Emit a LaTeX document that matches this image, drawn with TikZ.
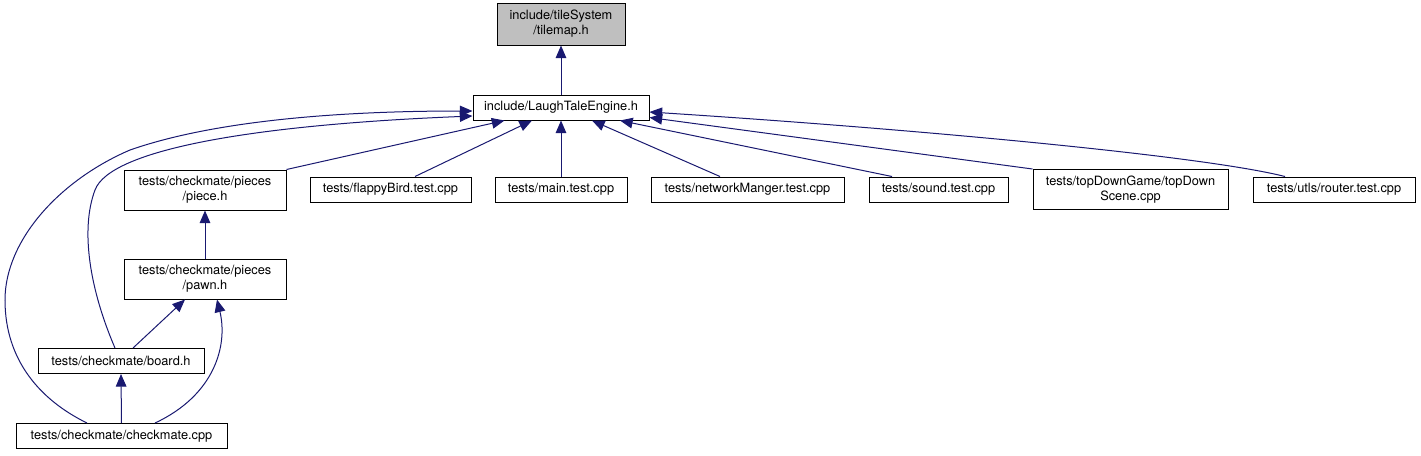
\documentclass[tikz,border=0pt]{standalone}
\usepackage{fontspec}
\setmainfont{TeX Gyre Heros}
\usetikzlibrary{arrows.meta,calc}
\definecolor{edgeblue}{HTML}{191970}
\definecolor{rootgray}{HTML}{BFBFBF}

\tikzset{every picture/.style={line width=0.75pt}}
\tikzset{
  file/.style={draw=black, fill=white, inner sep=0pt, align=center,
    font=\fontsize{9.6pt}{11.25pt}\selectfont, minimum height=25*0.75pt},
  twoline/.style={minimum height=40*0.75pt},
  wd/.style={minimum width=#1*0.75pt},
  dep/.style={draw=edgeblue, -{Triangle[length=9.5pt,width=8pt]}}
}

\begin{document}
\begin{tikzpicture}[x=0.75pt,y=0.75pt,yscale=-1,xscale=1]
\useasboundingbox (0,0) rectangle (1421,455);

% Text Node
\node[file, wd=128, minimum height=42*0.75pt, fill=rootgray] (tilemap) at (561,24) {include/tileSystem\\/tilemap.h};
% Text Node
\node[file, wd=176] (lte) at (561,107.5) {include/LaughTaleEngine.h};
% Text Node
\node[file, wd=162, twoline] (piece) at (205,190) {tests/checkmate/pieces\\/piece.h};
% Text Node
\node[file, wd=161] (flappy) at (390.5,189.5) {tests/flappyBird.test.cpp};
% Text Node
\node[file, wd=132] (maintest) at (561,189.5) {tests/main.test.cpp};
% Text Node
\node[file, wd=193] (network) at (747.5,189.5) {tests/networkManger.test.cpp};
% Text Node
\node[file, wd=139] (sound) at (938.5,189.5) {tests/sound.test.cpp};
% Text Node
\node[file, wd=195, twoline] (topdown) at (1130.5,189.5) {tests/topDownGame/topDown\\Scene.cpp};
% Text Node
\node[file, wd=162] (router) at (1334,189.5) {tests/utls/router.test.cpp};
% Text Node
\node[file, wd=162, twoline] (pawn) at (205,279) {tests/checkmate/pieces\\/pawn.h};
% Text Node
\node[file, wd=166] (board) at (121,361) {tests/checkmate/board.h};
% Text Node
\node[file, wd=211] (checkmate) at (121.5,436) {tests/checkmate/checkmate.cpp};

%Straight Lines
\draw[dep] (lte.north) -- (tilemap.south);
\draw[dep] (piece.north east) -- ($(lte.south west)+(32,0)$);
\draw[dep] ($(flappy.north)+(24.5,0)$) -- ($(lte.south)+(-29,0)$);
\draw[dep] (maintest.north) -- (lte.south);
\draw[dep] ($(network.north)+(-27.5,0)$) -- ($(lte.south)+(31,0)$);
\draw[dep] ($(sound.north)+(-46.5,0)$) -- ($(lte.south)+(59,0)$);
\draw[dep] (topdown.north west) -- ($(lte.south east)+(0,-3)$);
\draw[dep] (pawn.north) -- (piece.south);
\draw[dep] ($(board.north)+(12,0)$) -- ($(pawn.south)+(-20,0)$);
\draw[dep] (checkmate.north) -- (board.south);

%Curve Lines
\draw[dep] ($(router.north)+(-49,0)$) .. controls (1200,155) and (900,128) .. ($(lte.east)+(0,4.5)$);
\draw[dep] ($(board.north)+(-6,0)$) .. controls (90,290) and (80,230) .. (95,190) .. controls (110,150) and (250,125) .. ($(lte.west)+(0,8.5)$);
\draw[dep] ($(checkmate.north)+(-34.5,0)$) .. controls (40,400) and (5,360) .. (5,300) .. controls (5,240) and (60,180) .. (130,150) .. controls (230,115) and (380,111) .. ($(lte.west)+(0,3.5)$);
\draw[dep] ($(checkmate.north)+(33.5,0)$) .. controls (215,395) and (228,345) .. ($(pawn.south)+(12,0)$);

\end{tikzpicture}
\end{document}
